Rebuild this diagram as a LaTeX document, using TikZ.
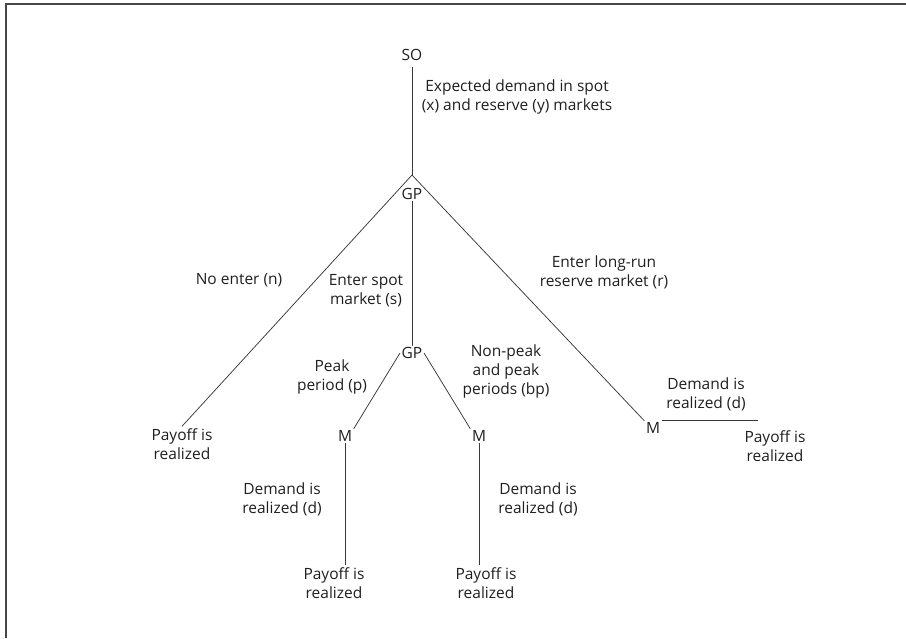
\documentclass[tikz,border=0pt]{standalone}
\usepackage{fontspec}
\setmainfont{Open Sans}
\usetikzlibrary{positioning}
\colorlet{framegray}{black!72}
\colorlet{linegray}{black!78}
\tikzstyle{lbl}=[inner sep=2pt,align=center,text=black!88,font=\fontsize{15.5}{19}\selectfont]
\tikzstyle{player}=[lbl,inner sep=1.5pt]
\tikzstyle{branch}=[draw=linegray,line width=.75pt]

\begin{document}
\begin{tikzpicture}[x=1pt, y=-1pt]
  \useasboundingbox (0,0) rectangle (906,638);
  \draw[framegray, line width=2pt] (906,4) -- (6,4) -- (6,638);

  \node[player] (so) at (412,55) {SO};
  \coordinate (top) at (412,175);
  \node[player] (gp1) at (412,194) {GP};
  \node[player] (gp2) at (412,353) {GP};

  \node[player] (ml) at (345,436) {M};
  \node[player] (mr) at (479,436) {M};
  \node[player] (mrr) at (653,428) {M};
  \coordinate (dend) at (758,417);

  \node[lbl] (payn) at (182,444) {Payoff is\\realized};
  \node[lbl] (payp) at (334,583) {Payoff is\\realized};
  \node[lbl] (paybp) at (486,583) {Payoff is\\realized};
  \node[lbl] (payr) at (775,446) {Payoff is\\realized};

  \draw[branch, shorten <=5pt] (so.south) -- (top);
  \draw[branch] (top) -- (payn.north);
  \draw[branch] (top) -- (mrr.north west);
  \draw[branch] (gp1.south) -- (gp2.north);
  \draw[branch] (gp2.west) -- (ml.north east);
  \draw[branch] (gp2.east) -- (mr.north west);
  \draw[branch] (ml.south) -- (ml.south |- payp.north);
  \draw[branch] (mr.south) -- (mr.south |- paybp.north);
  \draw[branch] (mrr.north east) -- (mrr.north east -| dend);

  \node[lbl] (xy) at (517,97) {Expected demand in spot\\(x) and reserve (y) markets};
  \node[lbl] (n) at (239,280) {No enter (n)};
  \node[lbl] (s) at (366,291) {Enter spot\\market (s)};
  \node[lbl] (r) at (604,272) {Enter long-run\\reserve market (r)};
  \node[lbl] (p) at (332,377) {Peak\\period (p)};
  \node[lbl] (bp) at (506,371) {Non-peak\\and peak\\periods (bp)};
  \node[lbl] (dp) at (282,499) {Demand is\\realized (d)};
  \node[lbl] (dbp) at (538,499) {Demand is\\realized (d)};
  \node[lbl] (dr) at (706,394) {Demand is\\realized (d)};
\end{tikzpicture}
\end{document}
